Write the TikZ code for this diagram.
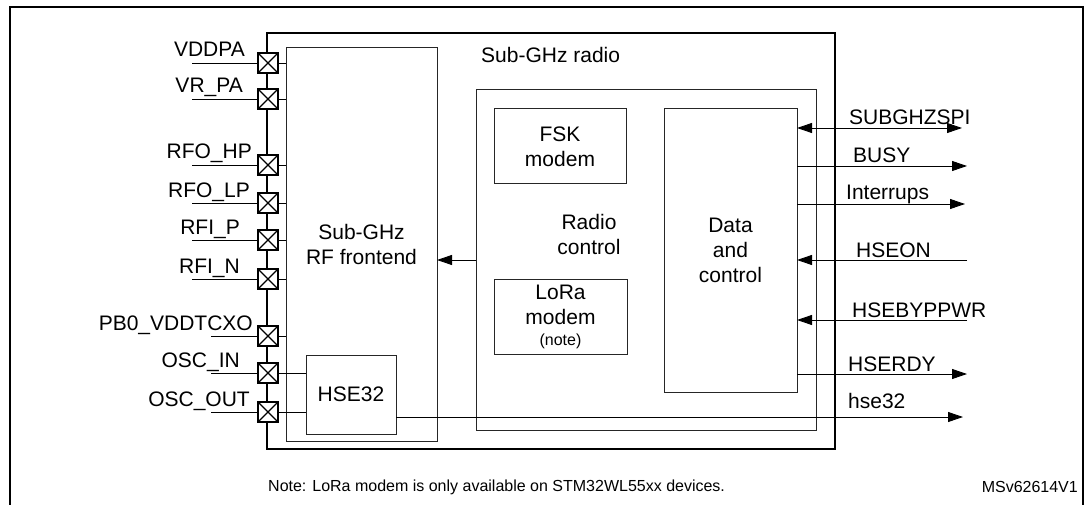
\documentclass[tikz,border=0pt]{standalone}
\usepackage{fontspec}
\setmainfont{Liberation Sans}
\usetikzlibrary{arrows.meta}
\begin{document}
\begin{tikzpicture}[x=1pt,y=-1pt,
  font=\fontsize{21}{25}\selectfont,
  box/.style={draw=black!85, line width=1pt, inner sep=0pt, outer sep=0pt, align=center, anchor=north west},
  pinbox/.style={draw, line width=1.7pt, fill=white, minimum size=19.5pt, inner sep=0pt,
    path picture={\draw[line width=1.3pt] (path picture bounding box.north west) -- (path picture bounding box.south east)
      (path picture bounding box.north east) -- (path picture bounding box.south west);}},
  pinlabel/.style={anchor=base east, inner sep=0pt},
  siglabel/.style={anchor=base west, inner sep=0pt},
  wire/.style={line width=0.9pt},
  tip/.tip={Triangle[length=15pt,width=10pt]},
  arr/.style={wire, -tip},
  smallfont/.style={font=\fontsize{16}{19}\selectfont}
]
\useasboundingbox (0,0) rectangle (1086,505);
% outer frame (open at the bottom)
\coordinate (fbl) at (10,510);
\coordinate (ftl) at (10,7);
\coordinate (ftr) at (1083,7);
\coordinate (fbr) at (1083,510);
\draw[line width=2.4pt] (fbl) -- (ftl) -- (ftr) -- (fbr);

% main block
\node[draw, line width=2pt, inner sep=0pt, outer sep=0pt, anchor=north west,
  minimum width=568pt, minimum height=416pt] (radio) at (267,33) {};
\node[siglabel] (radiolbl) at (481,63) {Sub-GHz radio};

% RF frontend
\node[box, minimum width=151pt, minimum height=393pt] (rf) at (286,48) {Sub-GHz\\RF frontend};
\node[box, minimum width=90pt, minimum height=79pt] (hse) at (306,355) {HSE32};

% radio control
\node[box, minimum width=340pt, minimum height=340pt] (rc) at (476,90) {};
\node[align=center, inner sep=0pt] (rclbl) at (589,234) {Radio\\control};
\node[box, minimum width=132pt, minimum height=75pt] (fsk) at (494,109) {FSK\\modem};
\node[box, minimum width=133pt, minimum height=75pt] (lora) at (494,279) {LoRa\\modem\\[-4pt]{\fontsize{16}{19}\selectfont (note)}};
\node[box, minimum width=133pt, minimum height=283pt] (data) at (664,109) {Data\\and\\control};

% arrow radio control -> RF frontend
\draw[arr] (rc.west) -- (rc.west -| rf.east);

% pins
\foreach \n/\y/\lab/\lx/\wx/\tgt in {
  1/63/VDDPA/245/192/rf,
  2/99/VR\_PA/243/192/rf,
  3/165/RFO\_HP/252/192/rf,
  4/203/RFO\_LP/250/192/rf,
  5/240/RFI\_P/240/192/rf,
  6/279/RFI\_N/240/192/rf,
  7/336/PB0\_VDDTCXO/253/211/rf,
  8/373/OSC\_IN/240/211/hse,
  9/412/OSC\_OUT/250/211/hse}{
  \coordinate (w\n) at (\wx,\y);
  \node[pinbox] (p\n) at (268,\y) {};
  \node[pinlabel] (l\n) at (\lx,\y-6) {\lab};
  \draw[wire] (w\n) -- (p\n);
  \draw[wire] (p\n) -- (p\n -| \tgt.west);
}

% right-hand signals
\coordinate (spi) at (962,128);
\coordinate (busy) at (967,166);
\coordinate (irq) at (965,204);
\coordinate (hseon) at (967,260);
\coordinate (byp) at (967,320);
\coordinate (rdy) at (967,374);
\coordinate (hout) at (963,417);
\draw[wire, tip-tip] (data.east |- spi) -- (spi);
\draw[arr] (data.east |- busy) -- (busy);
\draw[arr] (data.east |- irq) -- (irq);
\draw[arr] (hseon) -- (data.east |- hseon);
\draw[arr] (byp) -- (data.east |- byp);
\draw[arr] (data.east |- rdy) -- (rdy);
\draw[arr] (hse.east |- hout) -- (hout);

\node[siglabel] (tspi) at (849,125) {SUBGHZSPI};
\node[siglabel] (tbusy) at (853,163) {BUSY};
\node[siglabel] (tirq) at (846,200) {Interrups};
\node[siglabel] (thseon) at (856,257) {HSEON};
\node[siglabel] (tbyp) at (852,317) {HSEBYPPWR};
\node[siglabel] (trdy) at (848,371) {HSERDY};
\node[siglabel] (thout) at (848,408) {hse32};

% notes
\node[siglabel, smallfont] (note) at (268,491) {Note: LoRa modem is only available on STM32WL55xx devices.};
\node[pinlabel, smallfont] (ref) at (1078,492) {MSv62614V1};
\end{tikzpicture}
\end{document}
